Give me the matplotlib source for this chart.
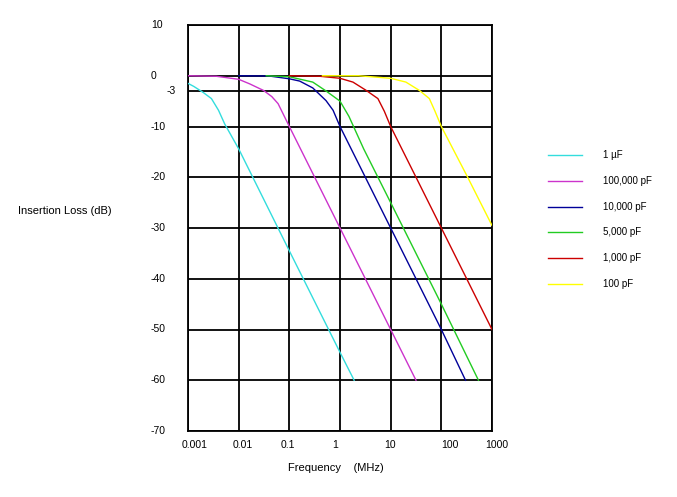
import matplotlib
matplotlib.use('Agg')
import matplotlib.pyplot as plt
from matplotlib.lines import Line2D
from matplotlib.transforms import blended_transform_factory

plt.rcParams['font.family'] = ['Liberation Sans', 'DejaVu Sans']

# frequency (MHz) / insertion loss (dB)
f_1uf = [0.001, 0.0013, 0.002, 0.0029, 0.004, 0.0053, 0.01, 0.1, 1, 1.9]
db_1uf = [-1.5, -2.1, -3.3, -4.5, -6.8, -9.5, -14.4, -34.5, -54.5, -60]

f_100n = [0.001, 0.0036, 0.01, 0.0165, 0.031, 0.045, 0.06, 0.1, 1, 10, 31.6]
db_100n = [0, -0.1, -0.7, -1.6, -2.9, -4.1, -5.5, -10, -30, -50, -60]

f_10n = [0.01, 0.04, 0.1, 0.16, 0.29, 0.53, 0.73, 1, 10, 100, 300]
db_10n = [0, -0.05, -0.6, -1.05, -2.4, -4.9, -6.8, -10, -30, -50, -60]

f_5n = [0.035, 0.1, 0.29, 0.53, 1, 1.5, 2.93, 10, 100, 540]
db_5n = [0, -0.2, -1.25, -3, -5, -8, -14.4, -25, -45, -60]

f_1n = [0.1, 0.4, 1, 1.8, 3.3, 5.6, 7.5, 10, 100, 1000]
db_1n = [0, -0.1, -0.5, -1.25, -2.9, -4.5, -7, -10, -30, -50]

f_100p = [0.45, 2.3, 10, 20, 37, 58, 75, 100, 331, 1000]
db_100p = [0, 0, -0.5, -1.25, -2.9, -4.5, -7, -10, -20, -29.5]

labels = ['1 \u00b5F', '100,000 pF', '10,000 pF', '5,000 pF', '1,000 pF', '100 pF']
colors = ['#33dddd', '#cc33cc', '#000099', '#22cc22', '#cc0000', '#ffff00']

yticks = [10, 0, -3, -10, -20, -30, -40, -50, -60, -70]
xticks = [0.001, 0.01, 0.1, 1, 10, 100, 1000]
xticklabels = ['0.001', '0.01', '0.1', '1', '10', '100', '1000']

series = [(f_1uf, db_1uf), (f_100n, db_100n), (f_10n, db_10n),
          (f_5n, db_5n), (f_1n, db_1n), (f_100p, db_100p)]

W, H = 677, 497
fig = plt.figure(figsize=(W / 100, H / 100), dpi=100)
ax = fig.add_axes([188 / W, 1 - 431 / H, 304 / W, 406 / H])
ax.set_xscale('log')
ax.set_xlim(0.001, 1000)
ax.set_ylim(-70, 10)

for yv in yticks:
    ax.axhline(yv, color='black', lw=1.3, zorder=1)
for xv in xticks:
    ax.axvline(xv, color='black', lw=1.3, zorder=1)

for (f, db), c in zip(series, colors):
    ax.plot(f, db, color=c, lw=1.0, zorder=3)

for s in ax.spines.values():
    s.set_linewidth(1.3)
ax.set_xticks([])
ax.set_yticks([])
ax.minorticks_off()

# tick labels placed like the original (left aligned y labels, slightly offset x labels)
ytr = blended_transform_factory(fig.transFigure, ax.transData)
for yv in yticks:
    xpos = 167 if yv == -3 else 151
    ax.text(xpos / W, yv, str(yv), transform=ytr, ha='left', va='center', fontsize=7.5)

xlabel_px = [195, 243, 288, 335, 390, 450, 497]
for xp, lab in zip(xlabel_px, xticklabels):
    fig.text(xp / W, 1 - 445 / H, lab, ha='center', va='center', fontsize=7.5)

fig.text(336 / W, 1 - 468 / H, 'Frequency    (MHz)', ha='center', va='center', fontsize=8)
fig.text(18 / W, 1 - 211 / H, 'Insertion Loss (dB)', ha='left', va='center', fontsize=8)

# legend drawn by hand
for i, (lab, c) in enumerate(zip(labels, colors)):
    yp = 1 - (155 + i * 25.8) / H
    fig.add_artist(Line2D([548 / W, 582 / W], [yp, yp], color=c, lw=1.0))
    fig.text(603 / W, yp, lab, ha='left', va='center', fontsize=7)

fig.savefig('out.png', dpi=100)
